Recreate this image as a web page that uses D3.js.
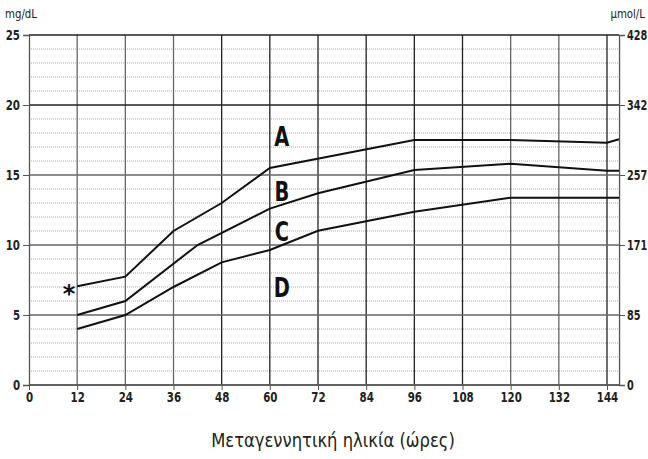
<!DOCTYPE html>
<html><head><meta charset="utf-8">
<script src="https://cdn.jsdelivr.net/npm/d3@7"></script>
<style>
body{margin:0;background:#fff;}
text{font-family:"DejaVu Sans",sans-serif;}
</style></head>
<body><svg id="c" width="648" height="459"></svg>
<script>
const xTicks = [0,12,24,36,48,60,72,84,96,108,120,132,144];
const yTicks = [0,5,10,15,20,25];
const yRightLabels = ["0","85","171","257","342","428"];
const lineA_hours = [12,24,36,48,60,96,120,144,147];
const lineA_vals  = [7.05,7.74,11,13,15.5,17.5,17.5,17.3,17.55];
const lineB_hours = [12,24,42,60,72,96,120,144,147];
const lineB_vals  = [5,6,10,12.6,13.7,15.36,15.8,15.3,15.3];
const lineC_hours = [12,24,36,48,60,72,96,120,147];
const lineC_vals  = [4,5,7,8.76,9.64,11.02,12.38,13.38,13.38];
const zoneLabels = ["A","B","C","D"];
const zoneLabelY = [17.07,13.14,10.29,6.29];
const darkV = [48,60,72,84,96,108,144];

const svg = d3.select("#c");
const x = d3.scaleLinear().domain([0,144]).range([29,607]);
const y = d3.scaleLinear().domain([0,25]).range([385,35]);
const xMax = 147;

// horizontal condensing via transform (keeps anchor position)
function condense(sel, f){
  sel.each(function(){
    const t = d3.select(this);
    const xv = +(t.attr("x") || 0);
    t.attr("x", xv / f).attr("transform", `scale(${f},1)`);
  });
}

// minor dotted lines
const minors = d3.range(1,25).filter(v=>v%5!==0);
svg.append("g").selectAll("line").data(minors).join("line")
  .attr("x1",x(0)).attr("x2",x(xMax)).attr("y1",d=>y(d)).attr("y2",d=>y(d))
  .attr("stroke","#aaa").attr("stroke-width",1).attr("stroke-dasharray","1,1");

// vertical grid
svg.append("g").selectAll("line").data(xTicks.filter(d=>d>0)).join("line")
  .attr("x1",d=>x(d)).attr("x2",d=>x(d)).attr("y1",y(0)).attr("y2",y(25))
  .attr("stroke",d=>darkV.includes(d)?"#222":"#666").attr("stroke-width",1.3);

// major horizontal
svg.append("g").selectAll("line").data(yTicks).join("line")
  .attr("x1",x(0)).attr("x2",x(xMax)).attr("y1",d=>y(d)).attr("y2",d=>y(d))
  .attr("stroke",d=>d>=20?"#222":"#666").attr("stroke-width",1.3);

function styleAxis(g, f){
  g.attr("font-family",null);
  g.select(".domain").attr("stroke","#555").attr("stroke-width",1.3);
  g.selectAll(".tick line").attr("stroke","#555");
  g.selectAll("text").attr("font-size",13.5).attr("font-weight","bold").attr("fill","#222").call(condense,f);
}
// left axis
svg.append("g").attr("transform",`translate(${x(0)},0)`)
  .call(d3.axisLeft(y).tickValues(yTicks).tickSize(6).tickPadding(3)).call(styleAxis,0.76);

// right axis
svg.append("g").attr("transform",`translate(${x(xMax)},0)`)
  .call(d3.axisRight(y).tickValues(yTicks).tickFormat((d,i)=>yRightLabels[i]).tickSize(6).tickPadding(2)).call(styleAxis,0.72);

// bottom axis
const gb = svg.append("g").attr("transform",`translate(0,${y(0)})`)
  .call(d3.axisBottom(x).tickValues(xTicks).tickSize(5).tickPadding(2)).call(styleAxis,0.76);
gb.select(".domain").attr("d",`M${x(0)},0H${x(xMax)}`);

// curves
const line = d3.line().x(d=>x(d[0])).y(d=>y(d[1]));
[[lineA_hours,lineA_vals],[lineB_hours,lineB_vals],[lineC_hours,lineC_vals]].forEach(([h,v])=>{
  svg.append("path").datum(h.map((d,i)=>[d,v[i]])).attr("d",line)
    .attr("fill","none").attr("stroke","#111").attr("stroke-width",2);
});

// zone labels
svg.append("g").selectAll("text").data(zoneLabels).join("text")
  .attr("x",x(63)).attr("y",(d,i)=>y(zoneLabelY[i])).attr("text-anchor","middle")
  .attr("font-size",27).attr("font-weight","bold").attr("fill","#111").text(d=>d)
  .call(condense,0.72);

// asterisk
svg.append("text").attr("x",x(10)).attr("y",y(5.9)).attr("text-anchor","middle")
  .attr("font-size",24).attr("font-weight","bold").attr("fill","#111").text("*");

// units
svg.append("text").attr("x",5).attr("y",18).attr("font-size",12).attr("fill","#222").text("mg/dL").call(condense,0.85);
svg.append("text").attr("x",645).attr("y",18).attr("text-anchor","end").attr("font-size",12).attr("fill","#222").text("µmol/L").call(condense,0.85);

// title
svg.append("text").attr("x",333).attr("y",447).attr("text-anchor","middle")
  .attr("font-size",20).attr("fill","#222").text("Μεταγεννητική ηλικία (ώρες)").call(condense,0.82);
</script></body></html>
